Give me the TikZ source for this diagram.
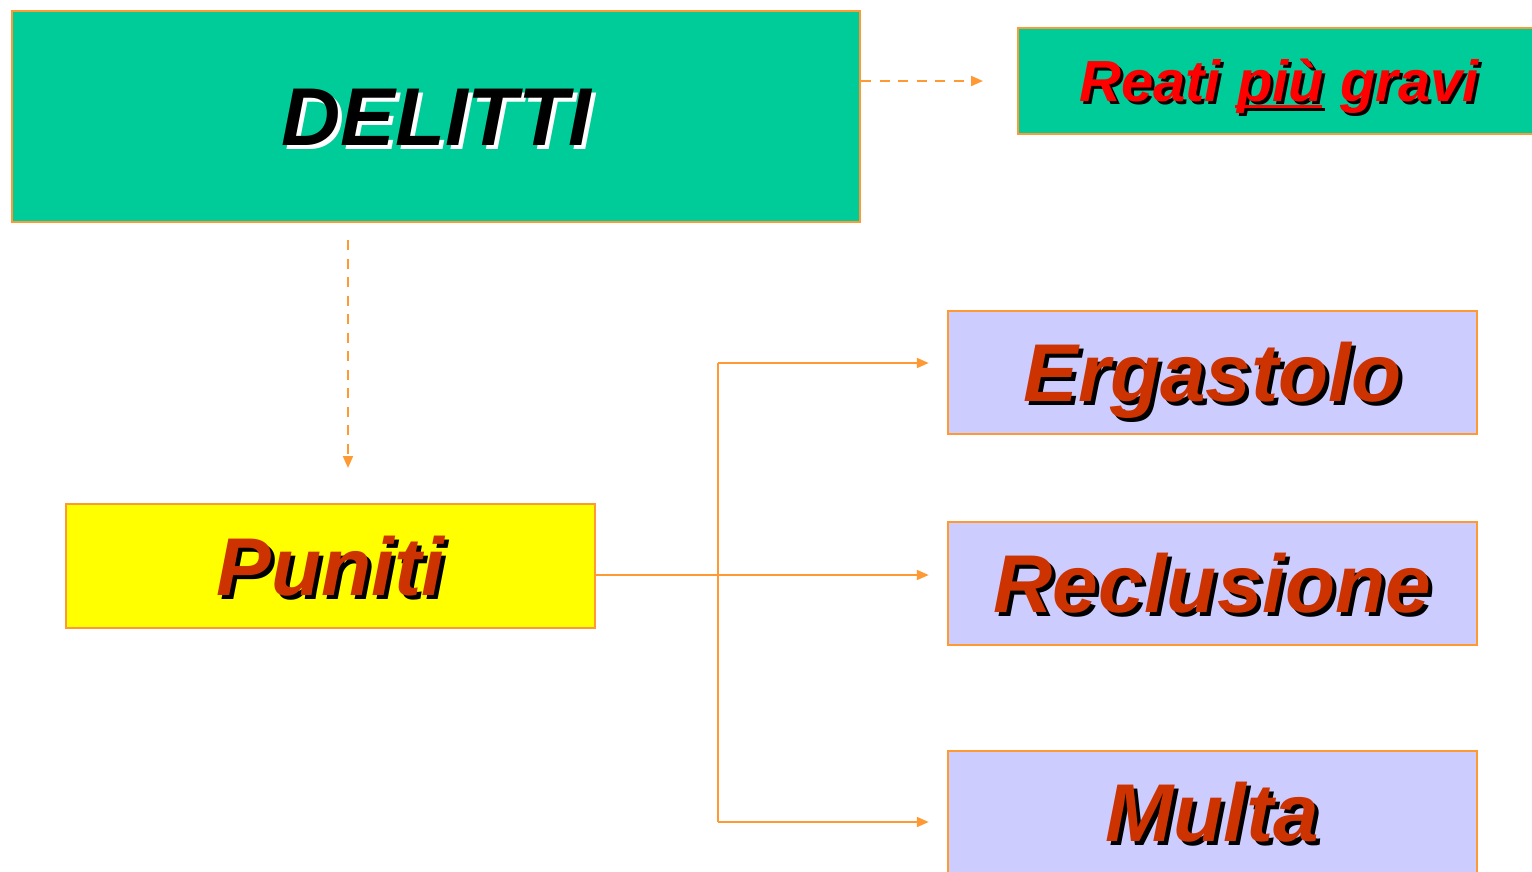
\documentclass[tikz,border=0pt]{standalone}
\usepackage{fontspec}
\setmainfont{Liberation Sans}
\usetikzlibrary{arrows.meta}
\definecolor{boxgreen}{RGB}{0,204,153}
\definecolor{boxyellow}{RGB}{255,255,0}
\definecolor{edgeorange}{RGB}{255,153,51}
\definecolor{boxlilac}{RGB}{204,204,255}
\definecolor{txtred}{RGB}{204,51,0}
\definecolor{txtbright}{RGB}{255,0,0}
\newcommand{\shadowed}[4]{\makebox[0pt][l]{\hspace{#1}\raisebox{-#1}{\color{#3}#4}}{\color{#2}#4}}
\newcommand{\thickul}[1]{{\setbox0\hbox{#1}\rlap{\hspace{-2pt}\rule[-6pt]{\wd0}{3pt}}\box0}}
\tikzset{
  bigbox/.style={draw=edgeorange, line width=2.5pt, inner sep=0pt, text height=58pt, text depth=0pt, font=\fontsize{82}{92}\selectfont\bfseries\itshape},
  dashlink/.style={draw=edgeorange, line width=2pt, dash pattern=on 10pt off 8.5pt, -{Triangle[length=12pt,width=10pt]}},
  link/.style={draw=edgeorange, line width=2pt, -{Triangle[length=12pt,width=10pt]}},
  plainlink/.style={draw=edgeorange, line width=2pt}
}
\begin{document}
\begin{tikzpicture}[x=1pt,y=1pt,yscale=-1]
	\useasboundingbox (0,0) rectangle (1532,871);
	\clip (0,0) rectangle (1532,871);
	\node [bigbox, fill=boxgreen, minimum width=848, minimum height=211] (delitti) at (436,116.5) {\shadowed{4pt}{black}{white}{DELITTI}};
	\node [bigbox, fill=boxgreen, minimum width=522, minimum height=106, text height=41pt, font=\fontsize{58}{66}\selectfont\bfseries\itshape] (gravi) at (1279,81) {\shadowed{3pt}{txtbright}{black}{Reati \thickul{più} gravi}};
	\node [bigbox, fill=boxyellow, minimum width=529, minimum height=124] (puniti) at (330.5,566) {\shadowed{4pt}{txtred}{black}{Puniti}};
	\node [bigbox, fill=boxlilac, minimum width=529, minimum height=123] (ergastolo) at (1212.5,372.5) {\shadowed{4pt}{txtred}{black}{Ergastolo}};
	\node [bigbox, fill=boxlilac, minimum width=529, minimum height=123] (reclusione) at (1212.5,583.5) {\shadowed{4pt}{txtred}{black}{Reclusione}};
	\node [bigbox, fill=boxlilac, minimum width=529, minimum height=123] (multa) at (1212.5,812.5) {\shadowed{4pt}{txtred}{black}{Multa}};

	\coordinate (gravitip) at (983,81);
	\coordinate (downstart) at (348,240);
	\coordinate (downtip) at (348,468);
	\coordinate (forktop) at (718,363);
	\coordinate (forkmid) at (718,575);
	\coordinate (forkbot) at (718,822);

	\draw [dashlink] (delitti.east |- gravitip) -- (gravitip);
	\draw [dashlink] (downstart) -- (downtip);
	\draw [link, shorten >=18pt] (puniti.east |- forkmid) -- (reclusione.west |- forkmid);
	\draw [plainlink] (forktop) -- (forkbot);
	\draw [link, shorten >=18pt] (forktop) -- (ergastolo.west |- forktop);
	\draw [link, shorten >=18pt] (forkbot) -- (multa.west |- forkbot);
\end{tikzpicture}
\end{document}
